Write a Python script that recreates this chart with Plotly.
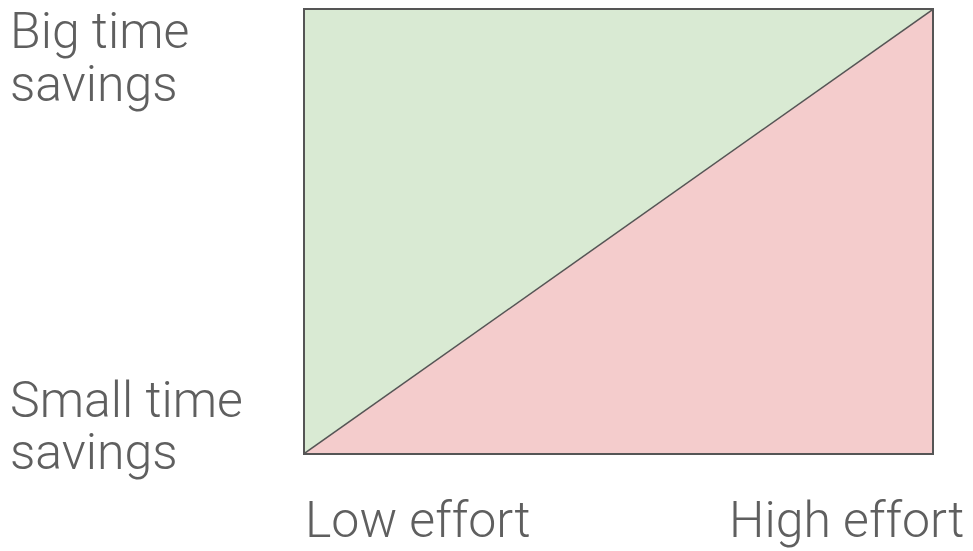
import plotly.graph_objects as go

# Data
upper_x = [0, 0, 1, 0]
upper_y = [0, 1, 1, 0]
lower_x = [0, 1, 1, 0]
lower_y = [0, 1, 0, 0]
diag_x = [0, 1]
diag_y = [0, 1]
y_label_top = ["Big time", "savings"]
y_label_bottom = ["Small time", "savings"]
x_labels = ["Low effort", "High effort"]

TEXT = "#5f5f5f"
FONT = "Roboto"
FS = 50

fig = go.Figure()
fig.add_trace(go.Scatter(x=upper_x, y=upper_y, fill="toself", fillcolor="#d9ead3",
                         mode="none", hoverinfo="skip", showlegend=False))
fig.add_trace(go.Scatter(x=lower_x, y=lower_y, fill="toself", fillcolor="#f4cccc",
                         mode="none", hoverinfo="skip", showlegend=False))
fig.add_trace(go.Scatter(x=diag_x, y=diag_y, mode="lines",
                         line=dict(color="#555555", width=1.5),
                         hoverinfo="skip", showlegend=False))

L, R, T, B = 305, 41, 8, 98
W, H = 973, 551
pw, ph = W - L - R, H - T - B

def px_x(p):
    return (p - L) / pw

def px_y(p):
    return (H - B - p) / ph

annos = [
    dict(text=y_label_top[0], x=px_x(8), y=px_y(29), xanchor="left", yanchor="middle"),
    dict(text=y_label_top[1], x=px_x(8), y=px_y(82), xanchor="left", yanchor="middle"),
    dict(text=y_label_bottom[0], x=px_x(8), y=px_y(400), xanchor="left", yanchor="middle"),
    dict(text=y_label_bottom[1], x=px_x(8), y=px_y(452), xanchor="left", yanchor="middle"),
    dict(text=x_labels[0], x=px_x(303), y=px_y(520), xanchor="left", yanchor="middle"),
    dict(text=x_labels[1], x=px_x(966), y=px_y(520), xanchor="right", yanchor="middle"),
]
for a in annos:
    a.update(xref="paper", yref="paper", showarrow=False,
             font=dict(family=FONT, size=FS, color=TEXT, weight=300))

fig.update_layout(
    width=W, height=H,
    margin=dict(l=L, r=R, t=T, b=B),
    paper_bgcolor="white", plot_bgcolor="white",
    annotations=annos,
    xaxis=dict(range=[0, 1], showgrid=False, zeroline=False, showticklabels=False,
               ticks="", showline=True, mirror=True, linecolor="#555555", linewidth=2,
               fixedrange=True),
    yaxis=dict(range=[0, 1], showgrid=False, zeroline=False, showticklabels=False,
               ticks="", showline=True, mirror=True, linecolor="#555555", linewidth=2,
               fixedrange=True),
)

fig.write_html("out.html", config={"displayModeBar": False},
               post_script="document.body.style.margin='0';document.body.style.overflow='hidden';")
